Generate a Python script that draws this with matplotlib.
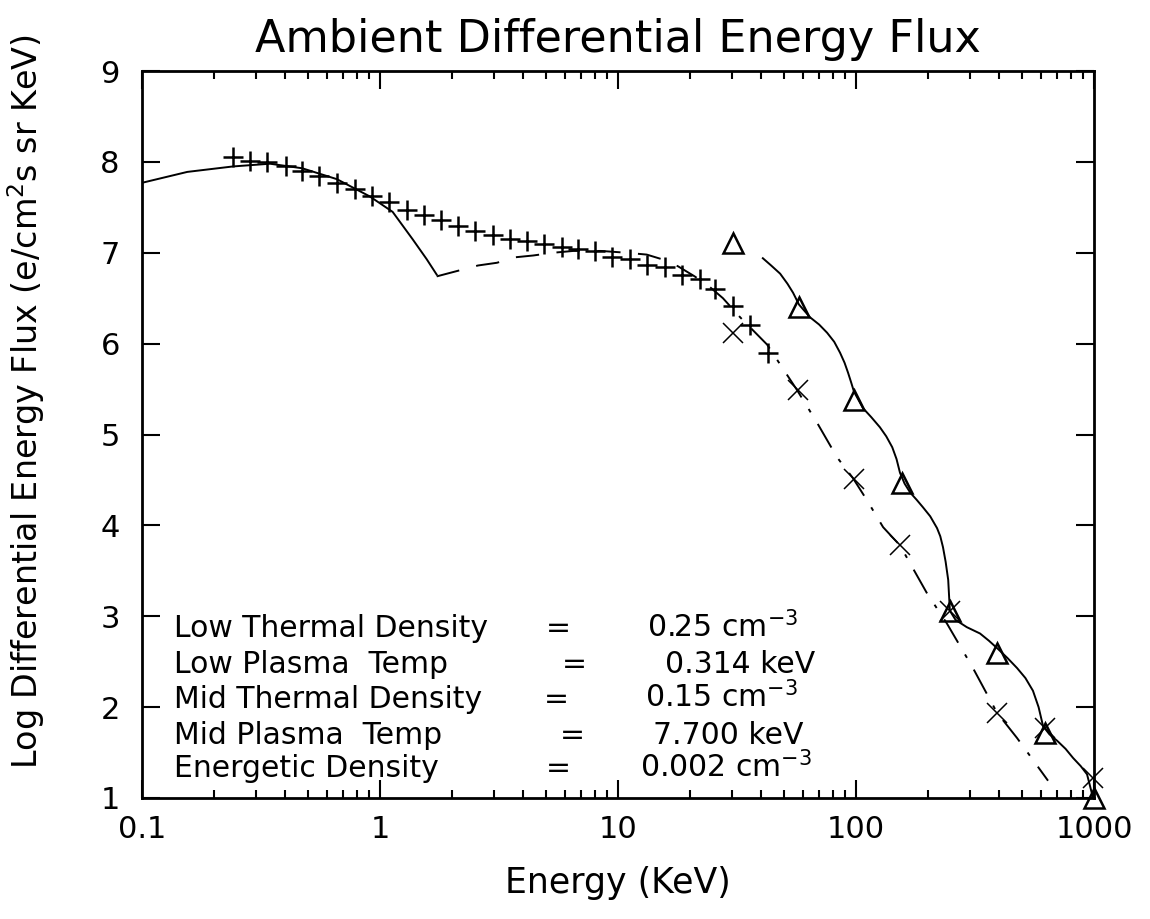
import matplotlib
matplotlib.use('Agg')
import matplotlib.pyplot as plt
import numpy as np

plt.rcParams.update({'font.family': 'DejaVu Sans', 'mathtext.default': 'regular'})

# ---- data ----
# measured spectrum (+)
plus_e = [0.241, 0.284, 0.335, 0.403, 0.470, 0.554, 0.659, 0.785, 0.925, 1.09,
          1.30, 1.53, 1.80, 2.13, 2.51, 2.98, 3.52, 4.15, 4.89, 5.82,
          6.79, 8.00, 9.44, 11.2, 13.2, 15.7, 18.6, 22.1, 25.6, 30.4,
          35.9, 42.7]
plus_v = [8.05, 8.01, 8.00, 7.96, 7.90, 7.84, 7.77, 7.70, 7.62, 7.56,
          7.47, 7.42, 7.36, 7.29, 7.24, 7.20, 7.15, 7.13, 7.10, 7.06,
          7.04, 7.02, 6.95, 6.93, 6.87, 6.84, 6.76, 6.71, 6.60, 6.41,
          6.21, 5.90]

# energetic channels (x)
cross_e = [30.4, 57.0, 98.0, 153, 248, 391, 622, 991]
cross_v = [6.12, 5.49, 4.51, 3.78, 3.06, 1.94, 1.77, 1.22]

# energetic channels (triangles)
tri_e = [30.4, 57.5, 98.0, 156, 248, 393, 622, 1000]
tri_v = [7.11, 6.40, 5.38, 4.47, 3.06, 2.60, 1.72, 1.00]

# low thermal Maxwellian (solid)
low_e = [0.1, 0.155, 0.241, 0.345, 0.471, 0.659, 0.906, 1.13, 1.37, 1.57, 1.73]
low_v = [7.77, 7.89, 7.95, 7.98, 7.93, 7.81, 7.62, 7.45, 7.15, 6.93, 6.76]

# mid thermal Maxwellian (dashed)
mid_e = [1.73, 2.58, 3.10, 3.69, 4.40, 5.33, 6.47, 8.5, 10.9, 13.2, 15.7, 17.9, 21.0, 24.4]
mid_v = [6.74, 6.86, 6.89, 6.95, 6.97, 7.00, 7.02, 7.02, 7.00, 6.98, 6.92, 6.85, 6.74, 6.62]

# energetic fit (dash-dot)
hot_e = [24.4, 27.6, 32.6, 42.3, 56.5, 68.6, 83.2, 97.1, 111, 130, 153, 199, 241, 310, 391, 475, 641]
hot_v = [6.62, 6.50, 6.29, 5.99, 5.49, 5.13, 4.75, 4.52, 4.28, 3.98, 3.78, 3.25, 2.92, 2.43, 1.94, 1.66, 1.19]

# channel fit through triangles (solid)
fit_e = [40.6, 44.0, 48.0, 51.5, 54.4, 57.6, 64.1, 70.0, 75.6, 81.0, 85.7, 89.5, 92.6, 95.5,
         98.1, 107, 116, 126, 134, 142, 148, 153, 160, 169, 180, 191, 205, 219, 226, 232,
         238, 244, 248, 262, 292, 332, 362, 395, 433, 475, 515, 554, 585, 611, 650, 700,
         760, 817, 880, 935, 991]
fit_v = [6.94, 6.86, 6.77, 6.66, 6.56, 6.43, 6.29, 6.21, 6.12, 6.02, 5.90, 5.79, 5.68, 5.57,
         5.47, 5.29, 5.19, 5.08, 4.98, 4.86, 4.73, 4.58, 4.46, 4.36, 4.28, 4.20, 4.10, 3.97, 3.88, 3.76,
         3.60, 3.40, 3.06, 2.96, 2.88, 2.81, 2.73, 2.64, 2.54, 2.43, 2.32, 2.18, 2.00, 1.79, 1.70, 1.63,
         1.54, 1.44, 1.35, 1.26, 1.00]

param_names = ['Low Thermal Density', 'Low Plasma  Temp', 'Mid Thermal Density',
               'Mid Plasma  Temp', 'Energetic Density']
param_values = ['0.25 cm$^{-3}$', '0.314 keV', '0.15 cm$^{-3}$',
                '7.700 keV', '0.002 cm$^{-3}$']

# ---- plot ----
fig = plt.figure(figsize=(11.5, 9.19), dpi=100)
ax = fig.add_axes([0.1235, 0.1317, 0.8278, 0.7910])

lw = 1.4
ax.plot(low_e, low_v, '-', color='black', lw=lw)
ax.plot(mid_e, mid_v, color='black', lw=lw, dashes=(12, 9))
ax.plot(hot_e, hot_v, color='black', lw=lw, dashes=(14, 7, 2, 7))
ax.plot(fit_e, fit_v, '-', color='black', lw=lw)

ax.plot(plus_e, plus_v, '+', color='black', ms=15, mew=1.8, ls='none', clip_on=False)
ax.plot(cross_e, cross_v, 'x', color='black', ms=14, mew=1.1, ls='none', clip_on=False)
ax.plot(tri_e, tri_v, '^', mfc='none', mec='black', ms=14, mew=1.8, ls='none', clip_on=False)

ax.set_xscale('log')
ax.set_xlim(0.1, 1000)
ax.set_ylim(1, 9)
ax.set_yticks(range(1, 10))
ax.set_xticks([0.1, 1, 10, 100, 1000])
ax.set_xticklabels(['0.1', '1', '10', '100', '1000'])

ax.tick_params(which='both', direction='in', top=True, right=True, width=1.5, labelsize=22)
ax.tick_params(which='major', length=13)
ax.tick_params(which='minor', length=6)
ax.tick_params(axis='y', pad=16)
ax.tick_params(axis='x', pad=12)
for s in ax.spines.values():
    s.set_linewidth(2)

ax.set_title('Ambient Differential Energy Flux', fontsize=32, pad=14)
ax.set_xlabel('Energy (KeV)', fontsize=25, labelpad=16)
ax.set_ylabel('Log Differential Energy Flux (e/cm$^2$s sr KeV)', fontsize=24)
ax.yaxis.set_label_coords(-0.1, 0.545)

eq_x = [0.424, 0.441, 0.422, 0.439, 0.424]
val_x = [0.530, 0.549, 0.528, 0.537, 0.523]
base_y = [0.2215, 0.172, 0.124, 0.0743, 0.0289]
for name, val, ex, vx, by in zip(param_names, param_values, eq_x, val_x, base_y):
    ax.text(0.0336, by, name, transform=ax.transAxes, fontsize=21.5, va='baseline')
    ax.text(ex, by, '=', transform=ax.transAxes, fontsize=21.5, va='baseline')
    ax.text(vx, by, val, transform=ax.transAxes, fontsize=21.5, va='baseline')

fig.savefig('out.png', dpi=100)
